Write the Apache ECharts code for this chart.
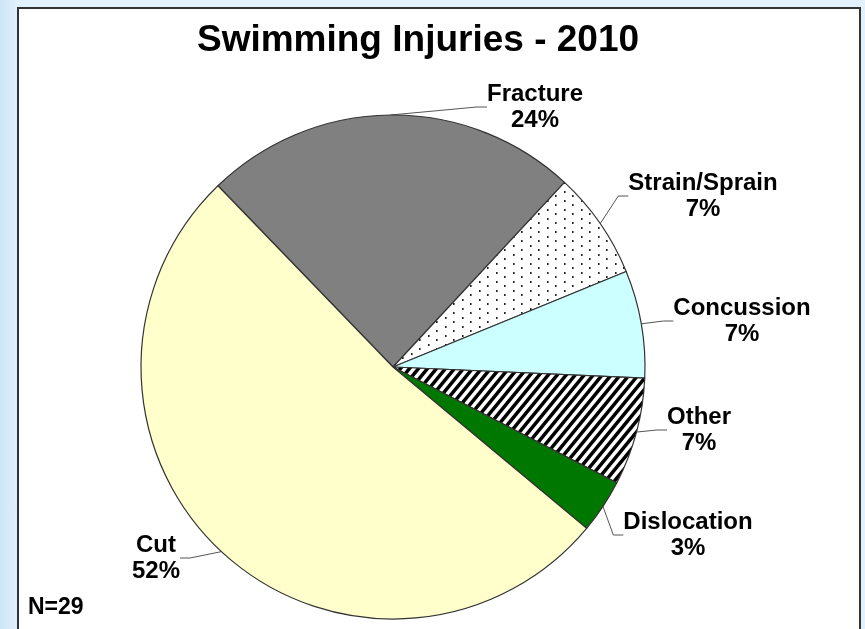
<!DOCTYPE html>
<html>
<head>
<meta charset="utf-8">
<script src="https://cdn.jsdelivr.net/npm/echarts@6/dist/echarts.min.js"></script>
<style>
  html, body { margin: 0; padding: 0; }
  body {
    width: 865px; height: 629px; overflow: hidden; position: relative;
    background: linear-gradient(to right, #cde5f7 0px, #e2f1fc 18px, #e2f1fc 100%);
  }
  #frame {
    position: absolute; left: 17px; top: 7px; width: 840px; height: 700px;
    background: #fff; border: 2px solid #333;
  }
  #chart { position: absolute; left: 0; top: 0; width: 865px; height: 629px; }
</style>
</head>
<body>
<div id="frame"></div>
<div id="chart"></div>
<script>
// injury counts, N=29
const injuryTypes = ["Fracture", "Strain/Sprain", "Concussion", "Other", "Dislocation", "Cut"];
const injuryCounts = [7, 2, 2, 2, 1, 15];
const totalN = 29;

function dotPattern() {
  const c = document.createElement("canvas");
  c.width = 17; c.height = 18;
  const ctx = c.getContext("2d");
  ctx.fillStyle = "#fff";
  ctx.fillRect(0, 0, 17, 18);
  ctx.fillStyle = "#222";
  [[3, 2], [3, 11], [11, 6], [11, 15]].forEach(d => ctx.fillRect(d[0], d[1], 1.6, 2));
  return c;
}

function stripePattern() {
  const w = 9, h = 11;
  const c = document.createElement("canvas");
  c.width = w; c.height = h;
  const ctx = c.getContext("2d");
  ctx.fillStyle = "#fff";
  ctx.fillRect(0, 0, w, h);
  ctx.strokeStyle = "#000";
  ctx.lineWidth = 3.5;
  ctx.beginPath();
  for (let k = -2; k <= 2; k++) {
    ctx.moveTo(k * w - w, 2 * h);
    ctx.lineTo(k * w + 2 * w, -h);
  }
  ctx.stroke();
  return c;
}

const sliceColors = [
  "#808080",
  { image: dotPattern(), repeat: "repeat" },
  "#ccffff",
  { image: stripePattern(), repeat: "repeat" },
  "#007800",
  "#ffffcc",
];

// where each label block sits (centre), same order as injuryTypes
const labelSpots = [[535, 107], [703, 196], [742, 321], [699, 430], [688, 535], [156, 558]];

const chart = echarts.init(document.getElementById("chart"));
chart.setOption({
  animation: false,
  title: {
    text: "Swimming Injuries - 2010",
    left: 413, top: 17, textAlign: "center",
    textStyle: { fontFamily: "Liberation Sans", fontSize: 37, fontWeight: "bold", color: "#000" },
  },
  graphic: [{
    type: "text", left: 28, top: 596,
    style: { text: "N=" + totalN, font: "bold 23px 'Liberation Sans'", fill: "#000" },
  }],
  series: [{
    type: "pie",
    center: [393, 367],
    radius: 252,
    startAngle: 134,
    clockwise: true,
    percentPrecision: 0,
    data: injuryTypes.map((name, i) => ({
      name, value: injuryCounts[i], itemStyle: { color: sliceColors[i] },
    })),
    itemStyle: { borderColor: "#333", borderWidth: 1.2 },
    label: {
      show: true,
      formatter: "{b}\n{d}%",
      fontFamily: "Liberation Sans",
      fontSize: 24,
      fontWeight: "bold",
      lineHeight: 26,
      color: "#000",
      align: "center",
    },
    labelLine: { show: true, length: 10, length2: 10, lineStyle: { color: "#555", width: 1 } },
    labelLayout: function (p) {
      const pos = labelSpots[p.dataIndex];
      return { x: pos[0], y: pos[1], align: "center", verticalAlign: "middle" };
    },
    emphasis: { disabled: true },
  }],
});
</script>
</body>
</html>
